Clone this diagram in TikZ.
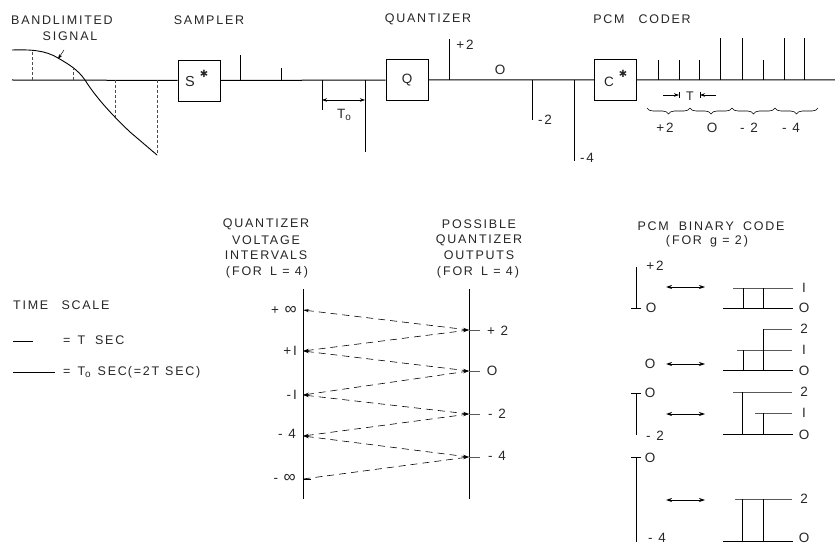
\documentclass[tikz,border=0pt]{standalone}
\usepackage{fontspec}
\setmainfont[LetterSpace=14]{Liberation Sans}
\newfontfamily\starfont{DejaVu Sans}
\newcommand{\bigsym}{\fontsize{17}{17}\selectfont ∞}
\usetikzlibrary{arrows.meta,decorations.pathreplacing}
\tikzset{
  txt/.style={inner sep=0pt,font=\fontsize{12.5}{14}\selectfont,text=black!85},
  num/.style={txt,font=\fontsize{13.5}{14}\selectfont},
  big/.style={txt,font=\fontsize{14.5}{15}\selectfont},
  lnum/.style={num,anchor=west},
  rnum/.style={num,anchor=east},
  ltxt/.style={txt,anchor=west},
  block/.style={draw,line width=.9pt,minimum width=42pt,minimum height=41pt,inner sep=0pt},
  base/.style={line width=1pt},
  stem/.style={line width=.9pt},
  thin line/.style={line width=.5pt,black!65},
  dot line/.style={line width=.5pt,dash pattern=on 3pt off 2pt,black!70},
  dim/.style={line width=.5pt,{Stealth[length=5pt,width=3.5pt]}-{Stealth[length=5pt,width=3.5pt]}},
  head/.style={line width=.5pt,-{Stealth[length=5pt,width=3.5pt]}},
  link/.style={line width=.6pt,dash pattern=on 7pt off 5pt,{Stealth[length=6pt,width=3pt]}-{Stealth[length=6pt,width=3pt]}},
  swap/.style={line width=.8pt,{Stealth[length=6pt,width=4pt]}-{Stealth[length=6pt,width=4pt]}},
  brc/.style={line width=.6pt,decorate,decoration={brace,amplitude=6pt}}
}
\begin{document}
\begin{tikzpicture}[x=1pt,y=-1pt]
\useasboundingbox (0,0) rectangle (835,545);
% top chain
\coordinate (in) at (12,80);
\coordinate (out) at (835,80);
\node[block] (S) at (199,80.5) {};
\node[block] (Q) at (407,80) {};
\node[block] (C) at (615.5,80) {};
\draw[base] (in) -- (S) (S) -- (Q) (Q) -- (C) (C) -- (out);
\node[big] (sl) at (190,82) {S};
\node[txt] (ss) at (204,74) {\starfont\fontsize{10}{10}\selectfont ✱};
\node[num] (ql) at (407,80) {Q};
\node[num] (cl) at (609,82) {C};
\node[txt] (cs) at (623,74) {\starfont\fontsize{10}{10}\selectfont ✱};
% titles
\node[txt] (t1) at (62,20) {BANDLIMITED};
\node[txt] (t2) at (70,36) {SIGNAL};
\node[txt] (t3) at (209,20) {SAMPLER};
\node[txt] (t4) at (428,19) {QUANTIZER};
\node[txt] (t5) at (642,19) {PCM\hspace{14pt}CODER};
% signal
\draw[line width=.9pt] (12,50) .. controls (30,49.5) and (45,50) .. (58,58) .. controls (70,65) and (78,70) .. (85,80)
  .. controls (95,96) and (110,113) .. (130,132) -- (157,155);
\draw[dot line] (32,52) -- (32,80);
\draw[dot line] (73,67) -- (73,80);
\draw[dot line] (115,80) -- (115,117);
\draw[dot line] (157,80) -- (157,155);
\coordinate (sa) at (64,50);
\coordinate (sb) at (58,59);
\draw[head] (sa) -- (sb);
% sampler impulses
\draw[stem] (240,80) -- (240,55);
\draw[stem] (281,80) -- (281,68);
\draw[stem] (322,80) -- (322,110);
\draw[stem] (365,80) -- (365,152);
\coordinate (ta) at (322,100);
\coordinate (tb) at (365,100);
\draw[dim] (ta) -- (tb);
\node[num] (t0) at (344,115) {T\raisebox{-2pt}{\fontsize{10}{10}\selectfont o}};
% quantizer impulses
\draw[stem] (449,80) -- (449,39);
\draw[stem] (532,80) -- (532,120);
\draw[stem] (574,80) -- (574,161);
\node[num] (q1) at (465,45) {+2};
\node[num] (q2) at (500,70) {O};
\node[num] (q3) at (545,120) {-2};
\node[num] (q4) at (587,158) {-4};
% coder impulses
\foreach \x/\h in {658/60,679/60,699/60,720/38,742/38,763/60,784/38,804/38}
  \draw[stem] (\x,80) -- (\x,\h);
\coordinate (ua) at (663,95);
\coordinate (ub) at (679,95);
\coordinate (uc) at (716,95);
\coordinate (ud) at (700,95);
\draw[head] (ua) -- (ub);
\draw[head] (uc) -- (ud);
\draw[line width=.5pt] (ub)+(0,-3) -- +(0,3);
\draw[line width=.5pt] (ud)+(0,-3) -- +(0,3);
\node[txt] (tt) at (690,96) {T};
\draw[brc] (690,108) -- (647,108);
\draw[brc] (732,108) -- (690,108);
\draw[brc] (775,108) -- (732,108);
\draw[brc] (818,108) -- (775,108);
\node[num] (b1) at (665,128) {+2};
\node[num] (b2) at (712,128) {O};
\node[num] (b3) at (749,128) {- 2};
\node[num] (b4) at (791,128) {- 4};
% quantizer intervals
\node[txt] (h1) at (266,224) {QUANTIZER};
\node[txt] (h2) at (266,240) {VOLTAGE};
\node[txt] (h3) at (266,255) {INTERVALS};
\node[txt] (h4) at (267,272) {(\,FOR\hspace{3pt} L = 4\,)};
\node[txt] (h5) at (479,224) {POSSIBLE};
\node[txt] (h6) at (479,240) {QUANTIZER};
\node[txt] (h7) at (479,255) {OUTPUTS};
\node[txt] (h8) at (478,272) {(\,FOR\hspace{3pt} L = 4\,)};
\coordinate (lt) at (303,289); \coordinate (lb) at (303,499);
\coordinate (rt) at (469,289); \coordinate (rb) at (469,499);
\draw[base] (lt) -- (lb);
\draw[base] (rt) -- (rb);
\coordinate (l1) at (303,310); \coordinate (l2) at (303,351);
\coordinate (l3) at (303,395); \coordinate (l4) at (303,436);
\coordinate (l5) at (303,479);
\coordinate (r1) at (469,330); \coordinate (r2) at (469,371);
\coordinate (r3) at (469,414); \coordinate (r4) at (469,457);
\draw[link] (l1) -- (r1);
\draw[link] (l2) -- (r1);
\draw[link] (l2) -- (r2);
\draw[link] (l3) -- (r2);
\draw[link] (l3) -- (r3);
\draw[link] (l4) -- (r3);
\draw[link] (l4) -- (r4);
\draw[link,{Bar[width=1pt]}-{Stealth[length=6pt,width=3pt]}] (l5) -- (r4);
\draw[line width=.9pt] (l5) -- ++(8,0);
\draw[thin line] (r1) -- ++(11,0);
\draw[thin line] (r2) -- ++(11,0);
\draw[thin line] (r3) -- ++(11,0);
\draw[thin line] (r4) -- ++(11,0);
\node[rnum] (a1) at (297,310) {+ \bigsym};
\node[rnum] (a2) at (297,351) {+I};
\node[rnum] (a3) at (297,395) {-I};
\node[rnum] (a4) at (296,434) {- 4};
\node[rnum] (a5) at (296,478) {- \bigsym};
\node[lnum] (c1) at (487,331) {+ 2};
\node[num] (c2) at (492,371) {O};
\node[lnum] (c3) at (488,414) {- 2};
\node[lnum] (c4) at (488,456) {- 4};
% time scale
\node[ltxt] (m1) at (13,305) {TIME\hspace{8pt} SCALE};
\coordinate (m2a) at (13,341); \coordinate (m2b) at (33,341);
\draw[line width=.6pt] (m2a) -- (m2b);
\node[ltxt] (m2) at (63,340) {=\hspace{7pt}T\hspace{10pt}SEC};
\coordinate (m3a) at (13,372); \coordinate (m3b) at (55,372);
\draw[line width=.6pt] (m3a) -- (m3b);
\node[ltxt] (m3) at (63,372) {=\hspace{7pt}T\raisebox{-2pt}{\fontsize{10}{10}\selectfont o}\hspace{7pt}SEC\hspace{1pt}(=2T\hspace{6pt}SEC)};
% PCM binary code
\node[txt] (p1) at (711,226) {PCM\hspace{10pt}BINARY\hspace{4pt} CODE};
\node[txt] (p2) at (707,241) {(\,FOR\hspace{3pt} g = 2\,)};
% group 1
\draw[stem] (636,267) -- (636,308);
\draw[stem] (631,308) -- (641,308);
\node[num] (e1) at (655,266) {+2};
\node[num] (e2) at (651,308) {O};
\coordinate (s1a) at (666,287); \coordinate (s1b) at (705,287);
\draw[swap] (s1a) -- (s1b);
\draw[base] (723,308) -- (793,308);
\draw[thin line] (733,288) -- (793,288);
\draw[base] (743,308) -- (743,288);
\draw[base] (763,308) -- (763,288);
\node[num] (e3) at (804,288) {I};
\node[num] (e4) at (804,308) {O};
% group 2
\node[num] (f1) at (650,364) {O};
\coordinate (s2a) at (666,364); \coordinate (s2b) at (705,364);
\draw[swap] (s2a) -- (s2b);
\draw[base] (723,370) -- (793,370);
\draw[thin line] (763,329) -- (792,329);
\draw[thin line] (737,350) -- (792,350);
\draw[base] (743,370) -- (743,350);
\draw[base] (763,370) -- (763,329);
\node[num] (f2) at (804,329) {2};
\node[num] (f3) at (804,350) {I};
\node[num] (f4) at (804,371) {O};
% group 3
\draw[stem] (636,393) -- (636,435);
\draw[stem] (631,393) -- (641,393);
\node[num] (g1) at (650,393) {O};
\node[num] (g2) at (655,436) {- 2};
\coordinate (s3a) at (666,414); \coordinate (s3b) at (705,414);
\draw[swap] (s3a) -- (s3b);
\draw[base] (723,434) -- (793,434);
\draw[thin line] (733,392) -- (792,392);
\draw[thin line] (755,413) -- (792,413);
\draw[base] (742,434) -- (742,392);
\draw[base] (763,434) -- (763,413);
\node[num] (g3) at (804,392) {2};
\node[num] (g4) at (804,413) {I};
\node[num] (g5) at (804,435) {O};
% group 4
\draw[stem] (636,457) -- (636,542);
\draw[stem] (631,457) -- (641,457);
\node[num] (k1) at (650,458) {O};
\node[num] (k2) at (657,538) {- 4};
\coordinate (s4a) at (666,500); \coordinate (s4b) at (705,500);
\draw[swap] (s4a) -- (s4b);
\draw[base] (723,541) -- (793,541);
\draw[thin line] (735,499) -- (792,499);
\draw[base] (742,541) -- (742,499);
\draw[base] (763,541) -- (763,499);
\node[num] (k3) at (804,499) {2};
\node[num] (k4) at (804,538) {O};
\end{tikzpicture}
\end{document}
